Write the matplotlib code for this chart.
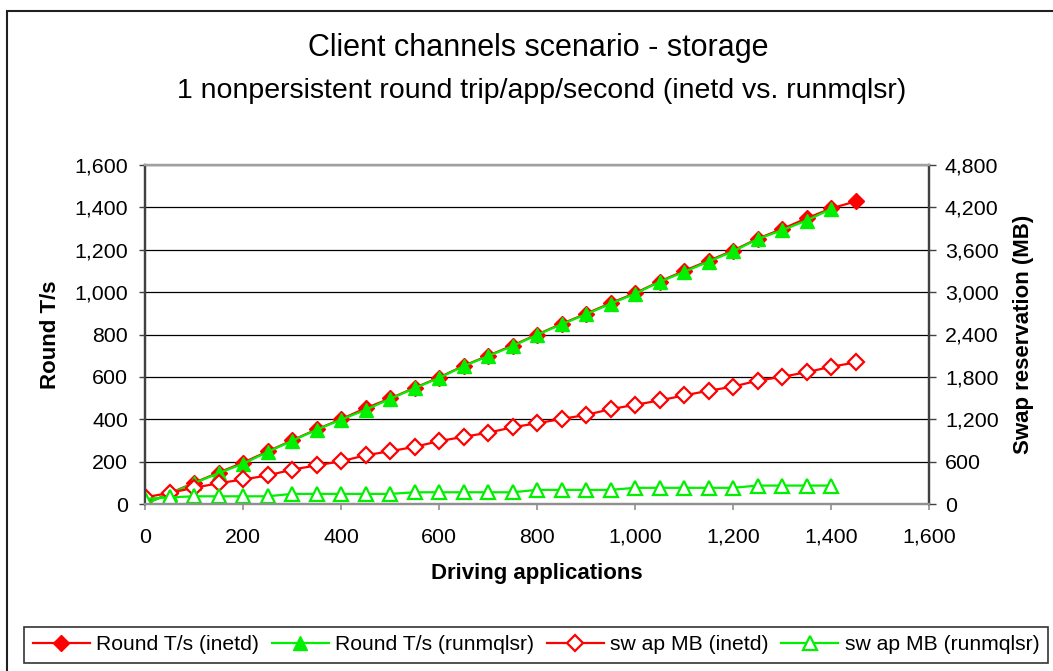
import matplotlib
matplotlib.use("Agg")
import matplotlib.pyplot as plt
from matplotlib.patches import Rectangle
from matplotlib.ticker import FuncFormatter, MultipleLocator

plt.rcParams.update({
    "font.family": ["Liberation Sans", "DejaVu Sans"],
    "font.size": 15.4,
    "figure.facecolor": "white",
})

# data
apps_inetd = [0, 50, 100, 150, 200, 250, 300, 350, 400, 450, 500, 550, 600, 650, 700,
              750, 800, 850, 900, 950, 1000, 1050, 1100, 1150, 1200, 1250, 1300, 1350, 1400, 1450]
apps_runmq = [0, 50, 100, 150, 200, 250, 300, 350, 400, 450, 500, 550, 600, 650, 700,
              750, 800, 850, 900, 950, 1000, 1050, 1100, 1150, 1200, 1250, 1300, 1350, 1400]

round_inetd = [0, 50, 100, 148, 195, 248, 300, 352, 400, 452, 498, 548, 597, 652, 700,
               748, 800, 850, 898, 948, 995, 1050, 1100, 1148, 1196, 1252, 1298, 1348, 1395, 1428]
round_runmq = [0, 48, 98, 145, 190, 245, 298, 350, 398, 444, 496, 546, 595, 650, 698,
               745, 798, 848, 895, 945, 992, 1048, 1095, 1144, 1192, 1250, 1292, 1338, 1392]

swap_inetd = [94, 157, 229, 294, 347, 404, 486, 547, 604, 690, 747, 809, 890, 951, 1009,
              1086, 1143, 1204, 1261, 1343, 1404, 1466, 1537, 1604, 1661, 1747, 1800, 1866, 1943, 2004]
swap_runmq = [71, 94, 109, 109, 109, 109, 143, 143, 143, 143, 143, 166, 166, 166, 166,
              166, 200, 200, 200, 200, 229, 229, 229, 229, 229, 261, 261, 261, 261]

labels = ["Round T/s (inetd)", "Round T/s (runmqlsr)", "sw ap MB (inetd)", "sw ap MB (runmqlsr)"]

RED = "#ff0000"
GREEN = "#00f000"
W, H = 1053, 671

fig = plt.figure(figsize=(W / 100, H / 100), dpi=100)

# outer chart border (cropped on right/bottom in the reference)
fig.add_artist(Rectangle((7 / W, -0.1), 1.2, (H - 11) / H + 0.1, transform=fig.transFigure,
                         fill=False, edgecolor="#202020", linewidth=1.5))

ax = fig.add_axes([145 / W, (H - 504) / H, (929 - 145) / W, (504 - 165) / H])
ax2 = ax.twinx()

comma = FuncFormatter(lambda v, p: f"{v:,.0f}")

ax.set_xlim(0, 1600)
ax.set_ylim(0, 1600)
ax2.set_ylim(0, 4800)
ax.xaxis.set_major_locator(MultipleLocator(200))
ax.yaxis.set_major_locator(MultipleLocator(200))
ax2.yaxis.set_major_locator(MultipleLocator(600))
for a in (ax.xaxis, ax.yaxis, ax2.yaxis):
    a.set_major_formatter(comma)

ax.grid(axis="y", color="black", linewidth=0.9)
ax.set_axisbelow(True)

for a in (ax, ax2):
    a.spines["left"].set_color("#404040")
    a.spines["right"].set_color("#404040")
    a.spines["left"].set_linewidth(1.6)
    a.spines["right"].set_linewidth(1.6)
    a.spines["top"].set_color("#a0a0a0")
    a.spines["top"].set_linewidth(1.6)
    a.spines["bottom"].set_color("#909090")
    a.spines["bottom"].set_linewidth(1.6)

ax.tick_params(axis="y", direction="out", length=4.5, width=1, color="#404040", pad=7.5)
ax.tick_params(axis="x", direction="out", length=4, width=1.2, color="#909090", pad=13)
ax2.tick_params(axis="y", direction="out", length=5, width=1, color="#404040", pad=6.5)

l1, = ax.plot(apps_inetd, round_inetd, color=RED, lw=1.6, marker="D", ms=8.5,
              mfc=RED, mec=RED, zorder=3)
l2, = ax.plot(apps_runmq, round_runmq, color=GREEN, lw=1.6, marker="^", ms=10,
              mfc=GREEN, mec=GREEN, zorder=4)
l3, = ax2.plot(apps_inetd, swap_inetd, color=RED, lw=1.6, marker="D", ms=8.5,
               mfc="white", mec=RED, mew=1.6)
l4, = ax2.plot(apps_runmq, swap_runmq, color=GREEN, lw=1.6, marker="^", ms=10,
               mfc="white", mec=GREEN, mew=1.6)

ax.set_ylabel("Round T/s", fontweight="bold", fontsize=16, labelpad=10)
ax2.set_ylabel("Swap reservation (MB)", fontweight="bold", fontsize=16, labelpad=10)
ax.set_xlabel("Driving applications", fontweight="bold", fontsize=16, labelpad=12)

fig.text(538 / W, 1 - 48 / H, "Client channels scenario - storage", ha="center", va="center",
         fontsize=22)
fig.text(542 / W, 1 - 91 / H, "1 nonpersistent round trip/app/second (inetd vs. runmqlsr)",
         ha="center", va="center", fontsize=20.5)

leg = fig.legend([l1, l2, l3, l4], labels, ncol=4, loc="center",
                 bbox_to_anchor=(536 / W, 1 - 645 / H), frameon=True, fancybox=False,
                 edgecolor="black", handlelength=2.7, handletextpad=0.3, columnspacing=0.6,
                 borderpad=0.4, fontsize=15.2)
leg.get_frame().set_linewidth(1.2)

fig.savefig("out.png", dpi=100)
